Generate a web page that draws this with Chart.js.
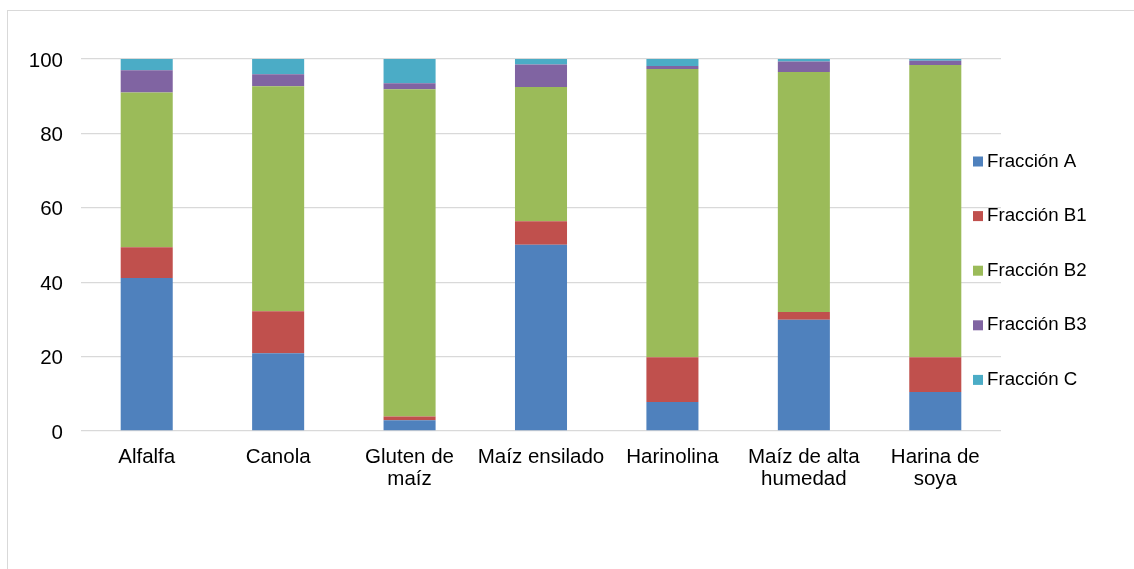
<!DOCTYPE html>
<html>
<head>
<meta charset="utf-8">
<script src="https://cdn.jsdelivr.net/npm/chart.js@4/dist/chart.umd.min.js"></script>
<style>
    html, body { margin:0; padding:0; background:#fff; }
    #frame { position:absolute; left:7px; top:10px; right:0; bottom:0; border-top:1px solid #d9d9d9; border-left:1px solid #d9d9d9; }
    #wrap { position:absolute; left:0; top:0; width:1134px; height:569px; }
</style>
</head>
<body>
<div id="frame"></div>
<div id="wrap"><canvas id="chart-fracciones" width="1134" height="569"></canvas></div>
<script>
// Fracciones de proteína por ingrediente (%)
const CATEGORIES = ['Alfalfa', 'Canola', ['Gluten de', 'maíz'], 'Maíz ensilado', 'Harinolina', ['Maíz de alta', 'humedad'], ['Harina de', 'soya']];
const FRACCION_A  = [41.1, 20.9, 2.9, 50.1, 7.8, 29.9, 10.5];
const FRACCION_B1 = [8.3, 11.3, 1.0, 6.3, 12.0, 2.1, 9.3];
const FRACCION_B2 = [41.6, 60.5, 88.0, 36.1, 77.5, 64.5, 78.6];
const FRACCION_B3 = [6.0, 3.2, 1.6, 6.0, 0.8, 2.8, 1.1];
const FRACCION_C  = [3.0, 4.1, 6.5, 1.5, 1.9, 0.7, 0.5];
const SERIES_LABELS = ['Fracción A', 'Fracción B1', 'Fracción B2', 'Fracción B3', 'Fracción C'];
const SERIES_COLORS = ['#4f81bd', '#c0504d', '#9bbb59', '#8064a2', '#4bacc6'];

const FONT = 'Arial, "Liberation Sans", sans-serif';
const AXIS_SIZE = 20.5;
const LEGEND_SIZE = 18.7;

// legend drawn over the plot, to the right, like the original
const overlayLegend = {
    id: 'overlayLegend',
    afterDraw(chart) {
        const ctx = chart.ctx;
        ctx.save();
        ctx.font = LEGEND_SIZE + 'px ' + FONT;
        ctx.textBaseline = 'middle';
        ctx.textAlign = 'left';
        chart.data.datasets.forEach((ds, i) => {
            const y = 161.5 + i * 54.6;
            ctx.fillStyle = ds.backgroundColor;
            ctx.fillRect(973, y - 5, 10, 10);
            ctx.fillStyle = '#000';
            ctx.fillText(ds.label, 987, y);
        });
        ctx.restore();
    }
};

const allSeries = [FRACCION_A, FRACCION_B1, FRACCION_B2, FRACCION_B3, FRACCION_C];

new Chart(document.getElementById('chart-fracciones'), {
    type: 'bar',
    data: {
        labels: CATEGORIES,
        datasets: allSeries.map((d, i) => ({
            label: SERIES_LABELS[i],
            data: d,
            backgroundColor: SERIES_COLORS[i],
            borderWidth: 0,
            barPercentage: 0.396,
            categoryPercentage: 1
        }))
    },
    options: {
        responsive: false,
        animation: false,
        devicePixelRatio: 1,
        layout: { padding: { left: 0, right: 133, top: 59, bottom: 58 } },
        plugins: { legend: { display: false }, tooltip: { enabled: false } },
        scales: {
            x: {
                stacked: true,
                afterFit: s => { s.height = 80; },
                grid: { display: false, drawTicks: false },
                border: { display: false },
                ticks: { color: '#000', padding: 15, maxRotation: 0, autoSkip: false, font: { family: FONT, size: AXIS_SIZE, lineHeight: 22 / AXIS_SIZE } }
            },
            y: {
                stacked: true,
                min: 0,
                max: 100,
                afterFit: s => { s.width = 81; },
                grid: { color: '#d9d9d9', lineWidth: 1.3, drawTicks: false },
                border: { display: false },
                ticks: { stepSize: 20, color: '#000', padding: 18, labelOffset: 2, font: { family: FONT, size: AXIS_SIZE } }
            }
        }
    },
    plugins: [overlayLegend]
});
</script>
</body>
</html>
